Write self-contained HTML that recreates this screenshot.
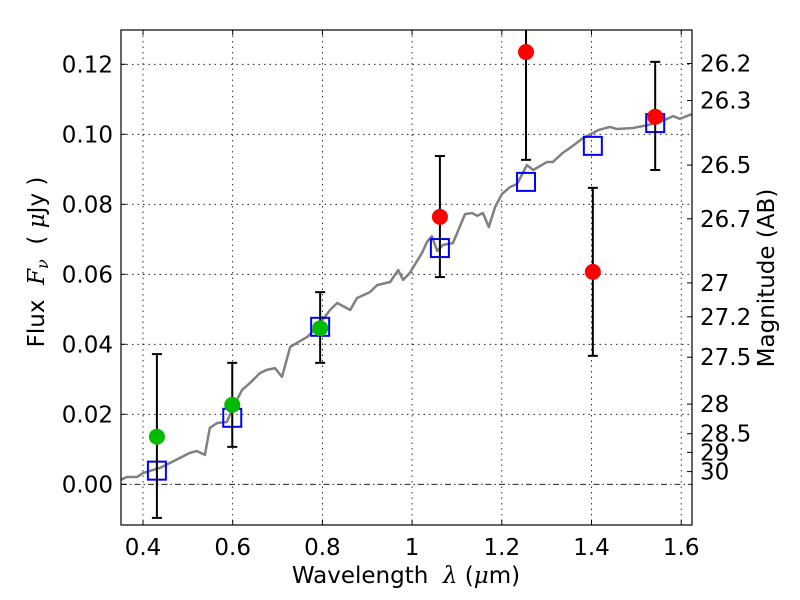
<!DOCTYPE html>
<html><head><meta charset="utf-8"><style>
body{margin:0;background:#fff}
svg{display:block;font-family:"DejaVu Sans","Liberation Sans",sans-serif}
</style></head><body>
<svg id="c" width="800" height="600" xmlns="http://www.w3.org/2000/svg">
<rect width="800" height="600" fill="#fff"/>
<g id="grid"></g>
<g id="marks"></g>
<rect x="121" y="30" width="571" height="495" fill="none" stroke="#000" stroke-width="1.2"/>
<g id="ticks" font-size="23"></g>
<text x="406" y="583" font-size="23" text-anchor="middle">Wavelength&#160;&#160;<tspan font-style="italic" font-family="DejaVu Serif,serif">λ</tspan> (<tspan font-style="italic" font-family="DejaVu Serif,serif">μ</tspan>m)</text>
<text transform="translate(44,262) rotate(-90)" font-size="23" text-anchor="middle">Flux&#160;&#160;<tspan font-style="italic" font-family="DejaVu Serif,serif">F<tspan font-size="16" dy="4">ν</tspan></tspan><tspan dy="-4">&#160;&#160;(&#160;</tspan><tspan font-style="italic" font-family="DejaVu Serif,serif">μ</tspan>Jy )</text>
<text transform="translate(774,278) rotate(-90)" font-size="23" text-anchor="middle">Magnitude (AB)</text>
</svg>
<script>
const specW=[.349,.364,.387,.400,.438,.460,.482,.505,.520,.538,.549,.565,.587,.601,.621,.639,.661,.676,.694,.710,.728,.743,.766,.788,.817,.833,.862,.877,.906,.922,.951,.969,.980,.995,1.022,1.033,1.044,1.056,1.069,1.091,1.118,1.134,1.145,1.158,1.171,1.185,1.200,1.218,1.234,1.256,1.270,1.301,1.314,1.336,1.352,1.381,1.415,1.441,1.457,1.493,1.524,1.553,1.582,1.597,1.624];
const specF=[.0012,.0021,.0021,.0032,.0047,.0061,.0075,.0090,.0095,.0084,.0161,.0175,.0178,.0221,.0270,.0290,.0318,.0327,.0332,.0307,.0392,.0404,.0421,.0449,.0498,.0518,.0498,.0532,.0549,.0569,.0578,.0612,.0584,.0604,.0661,.0692,.0709,.0667,.0684,.0689,.0772,.0775,.0767,.0775,.0735,.0792,.0829,.0849,.0858,.0912,.0898,.0921,.0921,.0947,.0961,.0989,.1012,.1021,.1015,.1018,.1026,.1035,.1052,.1044,.1058];
const bandW=[0.431,0.599,0.795,1.062,1.254,1.403,1.542];
const modelF=[0.0039,0.019,0.045,0.0675,0.0864,0.0967,0.1032];
const obsF=[0.0136,0.0227,0.0446,0.0764,0.1235,0.0607,0.105];
const errHi=[0.0372,0.0347,0.0549,0.0938,0.14,0.0847,0.1207];
const errLo=[-0.0096,0.0107,0.0347,0.0592,0.0927,0.0367,0.0898];
const obsColor=['#00bb00','#00bb00','#00bb00','#ff0000','#ff0000','#ff0000','#ff0000'];
const xTicks=[0.4,0.6,0.8,1.0,1.2,1.4,1.6];
const xTickLabels=['0.4','0.6','0.8','1','1.2','1.4','1.6'];
const yTicks=[0,0.02,0.04,0.06,0.08,0.10,0.12];
const yTickLabels=['0.00','0.02','0.04','0.06','0.08','0.10','0.12'];
const magTicks=[26.2,26.3,26.5,26.7,27,27.2,27.5,28,28.5,29,30];

const L=121,R=692,T=30,B=525;
const X=w=>143+(w-0.4)*448.5;
const Y=f=>484.3-f*3500;
const NS='http://www.w3.org/2000/svg';
function mk(tag,attrs,parent){const e=document.createElementNS(NS,tag);for(const k in attrs)e.setAttribute(k,attrs[k]);parent.appendChild(e);return e;}
const grid=document.getElementById('grid'),marks=document.getElementById('marks'),ticks=document.getElementById('ticks');

xTicks.forEach((t,i)=>{
  const x=X(t);
  const g=mk('line',{x1:x,x2:x,y1:T,y2:B,stroke:'#000','stroke-width':0.8,'stroke-dasharray':'1.5,4'},grid);
  
  
  mk('line',{x1:x,x2:x,y1:B,y2:B-5,stroke:'#000'},ticks);
  mk('line',{x1:x,x2:x,y1:T,y2:T+5,stroke:'#000'},ticks);
  const tx=mk('text',{x:x,y:B+30,'text-anchor':'middle'},ticks);
  tx.textContent=xTickLabels[i];
  
  
});
yTicks.forEach((t,i)=>{
  const y=Y(t);
  const g=mk('line',{x1:L,x2:R,y1:y,y2:y,stroke:'#000','stroke-width':0.8,'stroke-dasharray':t===0?'6,3,1.5,3':'1.5,4'},grid);
  
  
  mk('line',{x1:L,x2:L+5,y1:y,y2:y,stroke:'#000'},ticks);
  const tx=mk('text',{x:L-8,y:y+8,'text-anchor':'end'},ticks);
  tx.textContent=yTickLabels[i];
  
  
});
magTicks.forEach(m=>{
  const f=Math.pow(10,(23.9-m)/2.5);
  const y=Y(f);
  mk('line',{x1:R,x2:R-5,y1:y,y2:y,stroke:'#000'},ticks);
  const tx=mk('text',{x:R+8,y:y+8,'text-anchor':'start'},ticks);
  tx.textContent=String(m);
  
  
});

const cp=mk('clipPath',{id:'cp'},marks);mk('rect',{x:L,y:T,width:R-L,height:B-T},cp);
const mg=mk('g',{'clip-path':'url(#cp)'},marks);
const sp=mk('polyline',{points:specW.map((w,i)=>X(w)+','+Y(specF[i])).join(' '),fill:'none',stroke:'#808080','stroke-width':2.5,'stroke-linejoin':'round'},mg);



bandW.forEach((w,i)=>{
  const x=X(w);
  const sq=mk('rect',{x:x-9,y:Y(modelF[i])-9,width:18,height:18,fill:'none',stroke:'#0000ff','stroke-width':2},mg);
  
  
});
bandW.forEach((w,i)=>{
  const x=X(w),y1=Y(errHi[i]),y2=Y(errLo[i]);
  const eb=mk('g',{stroke:'#000','stroke-width':2},mg);
  
  
  mk('line',{x1:x,x2:x,y1:y1,y2:y2},eb);
  mk('line',{x1:x-5,x2:x+5,y1:y1,y2:y1},eb);
  mk('line',{x1:x-5,x2:x+5,y1:y2,y2:y2},eb);
  const c=mk('circle',{cx:x,cy:Y(obsF[i]),r:8,fill:obsColor[i]},mg);
  
  
});
</script>
</body></html>
